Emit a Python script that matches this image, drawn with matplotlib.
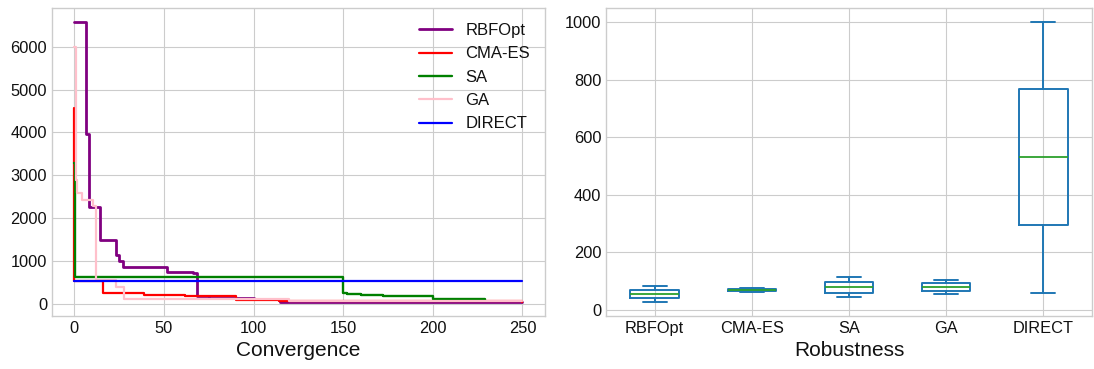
import matplotlib
matplotlib.use('Agg')
import matplotlib.pyplot as plt

# ── Convergence data (best value so far, step changes) ───────────────────
rbf_x = [0, 6.5, 8, 14.5, 23.5, 25, 27, 51.5, 66, 68.5, 75, 85, 100, 115, 250]
rbf_y = [6570, 3960, 2260, 1490, 1140, 1000, 860, 760, 735, 185, 155, 135, 125, 60, 50]

cma_x = [0, 0.05, 16, 39, 62, 90, 114, 250]
cma_y = [4560, 540, 250, 225, 190, 95, 65, 55]

sa_x = [0, 0.3, 114, 150, 152, 160, 172, 200, 212, 229]
sa_y = [3280, 640, 625, 250, 240, 210, 190, 130, 110, 95]

ga_x = [0, 1.0, 1.3, 4.3, 10.6, 12.2, 23, 27.5, 60, 120, 250]
ga_y = [6000, 2900, 2600, 2430, 2290, 560, 400, 125, 115, 80, 70]

direct_x = [0, 250]
direct_y = [530, 530]

# ── Robustness data (box plot statistics) ─────────────────────────────────
methods = ["RBFOpt", "CMA-ES", "SA", "GA", "DIRECT"]
whislo = [28, 64, 44, 55, 61]
q1     = [42, 67, 60, 67, 296]
med    = [56, 70, 79, 81, 531]
q3     = [70, 74, 96, 94, 766]
whishi = [84, 78, 115, 106, 1000]

plt.style.use('seaborn-v0_8-whitegrid')
plt.rcParams['font.family'] = ['Liberation Sans', 'DejaVu Sans']
plt.rcParams['text.color'] = '#111111'
plt.rcParams['xtick.color'] = '#111111'
plt.rcParams['ytick.color'] = '#111111'
plt.rcParams['axes.labelcolor'] = '#111111'

fig = plt.figure(figsize=(10.94, 3.69), dpi=100)
ax1 = fig.add_axes([0.0475, 0.1436, 0.4505, 0.8344])
ax2 = fig.add_axes([0.554, 0.1436, 0.444, 0.8344])

# ── Left: convergence ────────────────────────────────────────────────────
ax1.plot(rbf_x, rbf_y, drawstyle='steps-post', color='purple', lw=2.0, label='RBFOpt')
ax1.plot(cma_x, cma_y, drawstyle='steps-post', color='red', lw=1.6, label='CMA-ES')
ax1.plot(sa_x, sa_y, drawstyle='steps-post', color='green', lw=1.7, label='SA')
ax1.plot(ga_x, ga_y, drawstyle='steps-post', color='pink', lw=1.6, label='GA')
ax1.plot(direct_x, direct_y, color='blue', lw=1.6, label='DIRECT')
ax1.set_xlabel('Convergence', fontsize=15)
ax1.set_xticks([0, 50, 100, 150, 200, 250])
ax1.tick_params(labelsize=11.8)
ax1.legend(fontsize=12, loc='upper right', frameon=False)

# ── Right: robustness ────────────────────────────────────────────────────
stats = []
for i in range(len(methods)):
    stats.append({'label': methods[i], 'whislo': whislo[i], 'q1': q1[i],
                  'med': med[i], 'q3': q3[i], 'whishi': whishi[i]})
blue = '#1f77b4'
ax2.bxp(stats, widths=0.5, showfliers=False,
        boxprops=dict(color=blue, lw=1.4),
        whiskerprops=dict(color=blue, lw=1.4),
        capprops=dict(color=blue, lw=1.4),
        medianprops=dict(color='#2ca02c', lw=1.3))
ax2.set_xlabel('Robustness', fontsize=15)
ax2.set_yticks([0, 200, 400, 600, 800, 1000])
ax2.tick_params(labelsize=11.8)

for ax in (ax1, ax2):
    for s in ax.spines.values():
        s.set_color('#cccccc')

plt.savefig('out.png', dpi=100)
